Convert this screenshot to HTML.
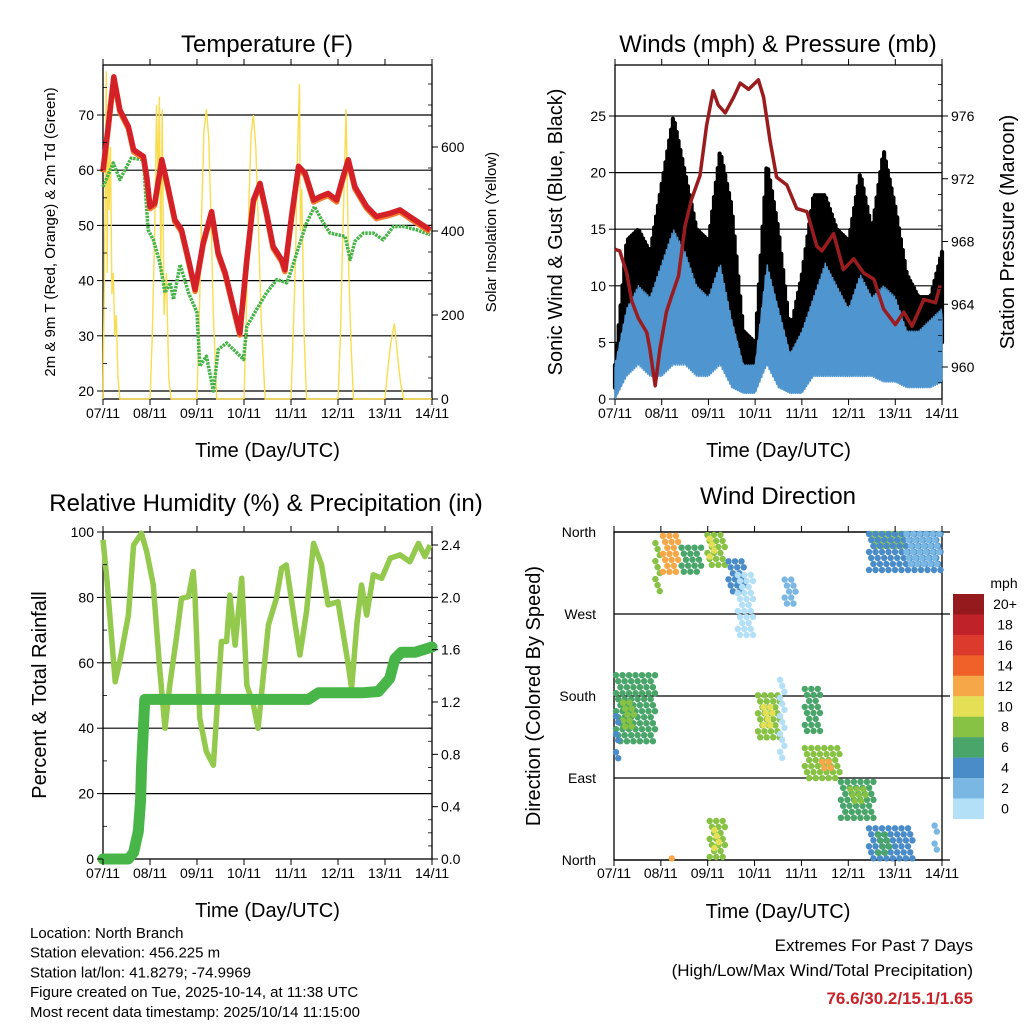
<!DOCTYPE html>
<html><head><meta charset="utf-8"><style>
body{margin:0;background:#fff}
svg{display:block;font-family:"Liberation Sans",sans-serif}
</style></head><body>
<svg id="c" width="1024" height="1024" viewBox="0 0 1024 1024" xmlns="http://www.w3.org/2000/svg"></svg>
<script>
// ---------- data ----------
const dayLabels=["07/11","08/11","09/11","10/11","11/11","12/11","13/11","14/11"];
const tempDays=[0,.11,.23,.36,.54,.65,.86,.93,1.0,1.1,1.25,1.35,1.53,1.67,1.82,1.96,2.13,2.31,2.45,2.6,2.77,2.91,3.06,3.2,3.34,3.48,3.62,3.8,3.87,4.01,4.16,4.3,4.48,4.62,4.79,4.97,5.11,5.22,5.36,5.61,5.82,6.1,6.32,6.53,6.74,6.96];
const tempRed=[60,67.9,76.9,70.9,67.9,63.7,62.5,58.9,53.4,54,61.9,58.3,51,49.2,43.8,38.4,46.8,52.5,45,41.4,35.4,30.5,43.8,54.6,57.6,52.2,46.2,43.8,42,51.6,60.7,59.5,54.6,55.2,55.8,54.6,58.9,61.9,57,53.4,51.6,52.2,52.8,51.6,50.4,49.2];
const tdDays=[0,.22,.36,.6,.86,.96,1.07,1.21,1.32,1.43,1.5,1.64,1.82,2.0,2.06,2.2,2.35,2.45,2.63,2.84,2.99,3.06,3.27,3.48,3.7,3.91,4.01,4.19,4.33,4.5,4.65,4.83,5.15,5.26,5.36,5.54,5.75,5.96,6.18,6.39,6.67,6.96];
const tdGreen=[57,61.3,58.3,62.2,61.9,49.2,47.4,43.2,37.8,39.6,36.6,42.9,37.8,34.2,24.5,26.3,20,27.5,28.7,27,25.7,31.7,34.8,37.8,40.2,39.6,42,46.8,50.4,53.4,51,48.6,48,43.8,47.1,48.6,48.6,47.4,49.8,49.8,49.2,48.3];
const solarDays=[0,.02,.05,.07,.09,.11,.13,.16,.19,.22,.25,.28,.32,.36,1.0,1.05,1.1,1.14,1.17,1.2,1.23,1.26,1.3,1.35,1.4,1.45,2.0,2.05,2.1,2.15,2.2,2.25,2.3,2.35,2.42,3.0,3.05,3.1,3.15,3.2,3.25,3.3,3.37,3.45,4.0,4.06,4.1,4.13,4.18,4.2,4.23,4.28,4.33,5.0,5.05,5.1,5.15,5.17,5.2,5.23,5.28,5.33,6.0,6.05,6.12,6.2,6.26,6.33,6.4,7.0];
const solarVals=[0,200,500,780,300,700,450,600,250,300,150,200,50,0,0,150,400,700,500,720,300,690,200,300,50,0,0,200,450,640,690,620,420,200,0,0,200,450,630,676,600,430,180,0,0,200,350,550,750,400,500,150,0,0,150,380,600,690,500,300,120,0,0,60,130,180,110,40,0,0];
const presDays=[0,.1,.25,.36,.5,.68,.75,.86,.96,1.1,1.21,1.36,1.5,1.64,1.82,1.96,2.1,2.21,2.36,2.54,2.68,2.86,3.07,3.18,3.32,3.46,3.68,3.89,4.11,4.32,4.43,4.68,4.89,5.11,5.32,5.54,5.75,6.0,6.18,6.36,6.61,6.86,6.96];
const presVals=[967.5,967.4,966,964.2,963.1,962.2,961.1,958.8,961.1,963.5,964.5,965.8,969,970.7,972.2,975.4,977.6,976.7,976.2,977.2,978.1,977.7,978.3,977.2,974.4,972.1,971.6,970.1,969.9,967.7,967.4,968.5,966.2,966.9,966,965.6,963.7,962.7,963.5,962.6,964.3,964.1,965.2];
const windDays=[0,.25,.5,.75,1,1.25,1.5,1.75,2,2.25,2.5,2.75,3,3.25,3.5,3.75,4,4.25,4.5,4.75,5,5.25,5.5,5.75,6,6.25,6.5,6.75,7];
const windLo=[0,2,3,2,2,3,3,2,2,3,1,.5,.5,3,1,.5,.5,2,2,2,2,2,2,1.5,1.5,1,1,1,1.5];
const windHi=[3,8,10,9,12,15,13,10,9,12,7,3,3,12,8,4,6,9,12,10,8,11,9,10,9,6,6,7,8];
const gustLo=[1,4,5,4,6,9,7,5,6,9,7,2,2,8,5,2,4,8,8,6,6,8,6,8,6,4,4,3,5];
const gustHi=[3,14,15,13,19,25,20,15,14,22,17,6,5,21,15,6,11,18,18,15,14,20,15,22,17,11,9,9,13];
const rhDays=[0,.08,.26,.37,.54,.65,.82,.93,1.07,1.2,1.32,1.42,1.57,1.67,1.82,1.92,1.96,2.06,2.2,2.35,2.52,2.63,2.7,2.81,2.95,3.06,3.2,3.3,3.52,3.69,3.8,3.9,4.09,4.19,4.33,4.48,4.65,4.79,5.0,5.22,5.29,5.4,5.5,5.61,5.75,5.93,6.11,6.32,6.53,6.71,6.85,6.96];
const rhVals=[97.6,85.8,54.2,61.4,74.6,96,99.6,94,83.8,59.3,40,53,68.5,79.7,80.2,87.9,79.7,43,32.8,28.7,66.5,66.5,80.7,65.4,85.8,53.2,47.1,40,71.6,79.7,88.9,89.9,71.6,62.4,75.6,96.5,89.9,77.7,78.7,59.3,52.2,71.6,83.8,74.6,86.9,85.8,92,93,90.9,96.5,92.5,96];
const rainDays=[0,.54,.65,.75,.8,.82,.86,.89,4.37,4.58,5.5,5.86,6.1,6.21,6.35,6.64,7.0];
const rainVals=[0,0,0.05,0.21,0.45,0.7,1.0,1.22,1.22,1.27,1.27,1.28,1.38,1.53,1.58,1.58,1.62];
// wind direction clusters: [dayStart, dayEnd, degLow, degHigh, speedMph]
const dirDay0=[0.84,1.0,1.4,1.95,2.0,2.4,2.6,3.6,0.0,0.15,0.0,3.03,3.15,3.5,4.03,4.03,4.4,4.8,5.0,5.4,5.6,5.45,5.4,6.2,2.0,2.1,1.19,0.0,6.8];
const dirDay1=[1.0,1.4,1.9,2.43,2.2,2.8,3.0,3.9,0.9,0.45,0.12,3.57,3.4,3.7,4.45,4.88,4.7,5.6,5.4,6.4,5.9,6.23,7.0,7.0,2.43,2.3,1.37,0.06,6.95];
const dirDeg0=[290,315,310,320,330,290,240,275,125,140,110,132,145,110,135,88,95,44,60,0,5,338,315,320,0,10,0,230,5];
const dirDeg1=[350,358,345,359,355,330,315,310,205,175,160,183,170,200,190,125,110,88,80,37,30,360,360,360,45,35,4,290,40];
const dirSpeed=[9,12,6,8,10,4,1,2,6,9,4,8,11,1,7,8,13,7,9,5,7,8,4,3,9,11,12,1,3];
const barLabels=["20+","18","16","14","12","10","8","6","4","2","0"];
const barColors=["#951a1e","#c0222a","#dc3a2c","#ef6129","#f6a848","#e4df55","#88c244","#4aa56a","#4a8cc8","#7ab8e3","#b3e0f7"];

// ---------- helpers ----------
const NS="http://www.w3.org/2000/svg";const S=document.getElementById('c');
function el(t,a,p){const e=document.createElementNS(NS,t);for(const k in a)e.setAttribute(k,a[k]);(p||S).appendChild(e);return e;}
function txt(s,x,y,size,anchor,p,extra){const e=el('text',Object.assign({x:x,y:y,'font-size':size,'text-anchor':anchor||'middle',fill:'#000'},extra||{}),p);e.textContent=s;return e;}
function group(name){const g=el('g',{});return g;}
function pts(xs,ys,fx,fy){return xs.map((d,i)=>fx(d).toFixed(1)+','+fy(ys[i]).toFixed(1)).join(' ');}
function lin(d0,d1,r0,r1){return v=>r0+(v-d0)/(d1-d0)*(r1-r0);}
function interp(xs,ys,x){for(let i=1;i<xs.length;i++){if(x<=xs[i]){const t=(x-xs[i-1])/(xs[i]-xs[i-1]);return ys[i-1]+t*(ys[i]-ys[i-1]);}}return ys[ys.length-1];}
function frame(g,x0,x1,y0,y1,gridYs,gx1){
  gridYs.forEach(y=>{const l=el('line',{x1:x0,x2:gx1||x1,y1:y,y2:y,stroke:'#000','stroke-width':1.2},g);});
  const r=el('rect',{x:x0,y:y0,width:x1-x0,height:y1-y0,fill:'none',stroke:'#000','stroke-width':1.3},g);
}
function xAxis(g,x0,x1,y0,y1,ly){
  const fx=lin(0,7,x0,x1);
  dayLabels.forEach((s,i)=>{const x=fx(i);el('line',{x1:x,x2:x,y1:y1,y2:y1+6,stroke:'#000'},g);el('line',{x1:x,x2:x,y1:y0,y2:y0-6,stroke:'#000'},g);
    const t=txt(s,x,ly,14,'middle',g);});
  const t=txt('Time (Day/UTC)',(x0+x1)/2,ly+39,20,'middle',g);
}
function yTicks(g,vals,fy,x,side,fmt,minorVals){
  vals.forEach(v=>{const y=fy(v);el('line',{x1:x,x2:x+(side<0?-6:6),y1:y,y2:y,stroke:'#000'},g);
    const t=txt(fmt(v),x+(side<0?-9:9),y+5,14,side<0?'end':'start',g);});
  (minorVals||[]).forEach(v=>{const y=fy(v);el('line',{x1:x,x2:x+(side<0?4:-4),y1:y,y2:y,stroke:'#000','stroke-width':.8},g);});
}
function rtxt(s,x,y,size,g,name){const t=txt(s,x,y,size,'middle',g,{transform:'rotate(-90 '+x+' '+y+')'});return t;}

// ---------- Panel 1: Temperature ----------
(function(){
const g=group('temperature-panel');
const X0=103,X1=432,Y0=65,Y1=399;const fx=lin(0,7,X0,X1);const fy=lin(20,70,391,115);const fs=lin(0,200,399,315);
const t=txt('Temperature (F)',267,52,24,'middle',g);
frame(g,X0,X1,Y0,Y1,[20,30,40,50,60,70].map(fy));
const sol=el('polyline',{points:pts(solarDays,solarVals,fx,fs),fill:'none',stroke:'#f9dc50','stroke-width':1.4},g);
const td=el('polyline',{points:pts(tdDays,tdGreen,fx,fy),fill:'none',stroke:'#46b347','stroke-width':3.5,'stroke-dasharray':'2.5 1','stroke-linejoin':'round'},g);
const or=el('polyline',{points:pts(tempDays,tempRed,fx,v=>fy(v)+2),fill:'none',stroke:'#f47d30','stroke-width':5.5,'stroke-linejoin':'round'},g);
const rd=el('polyline',{points:pts(tempDays,tempRed,fx,fy),fill:'none',stroke:'#d42127','stroke-width':5.5,'stroke-linejoin':'round'},g);
xAxis(g,X0,X1,Y0,Y1,418);
yTicks(g,[20,30,40,50,60,70],fy,X0,-1,v=>v,[25,35,45,55,65,75].filter(v=>fy(v)>Y0));
yTicks(g,[0,200,400,600],fs,X1,1,v=>v,[50,100,150,250,300,350,450,500,550,650,700,750]);
rtxt('2m & 9m T (Red, Orange) & 2m Td (Green)',55,232,15,g,'temperature-y-axis-title');
rtxt('Solar Insolation (Yellow)',496,232,15,g,'solar-y-axis-title');
})();

// ---------- Panel 2: Winds ----------
(function(){
const g=group('winds-panel');
const X0=615,X1=942,Y0=65,Y1=399;const fx=lin(0,7,X0,X1);const fy=lin(0,25,399,116);const fp=lin(960,976,367,116);
const t=txt('Winds (mph) & Pressure (mb)',778,52,24,'middle',g);
frame(g,X0,X1,Y0,Y1,[5,10,15,20,25].map(fy));
const gg=group('gust-scatter');g.appendChild(gg);
for(let d=0;d<=7.0001;d+=0.04){
  const lo=interp(windDays,gustLo,d),hi=interp(windDays,gustHi,d);
  const l=el('line',{x1:fx(d).toFixed(1),x2:fx(d).toFixed(1),y1:fy(lo).toFixed(1),y2:fy(hi).toFixed(1),stroke:'#000','stroke-width':4.2,'stroke-linecap':'round'},gg);
  
  
}
const up=[],dn=[];
for(let d=0,j=0;d<=7.0001;d+=0.02,j++){
  const lo=interp(windDays,windLo,d),hi=interp(windDays,windHi,d);
  up.push(fx(d).toFixed(1)+','+fy(hi*(j%2?1:0.9)).toFixed(1));
  dn.unshift(fx(d).toFixed(1)+','+fy(lo*(j%2?1:1.3)).toFixed(1));
}
const wb=el('polygon',{points:up.concat(dn).join(' '),fill:'#4f95cf',stroke:'#4f95cf','stroke-width':1.5,'stroke-linejoin':'round'},g);
const p=el('polyline',{points:pts(presDays,presVals,fx,fp),fill:'none',stroke:'#9b1c1f','stroke-width':3.5,'stroke-linejoin':'round'},g);
xAxis(g,X0,X1,Y0,Y1,418);
yTicks(g,[0,5,10,15,20,25],fy,X0,-1,v=>v,[]);
yTicks(g,[960,964,968,972,976],fp,X1,1,v=>v,[959,961,962,963,965,966,967,969,970,971,973,974,975,977,978]);
rtxt('Sonic Wind & Gust (Blue, Black)',562,232,20,g,'wind-y-axis-title');
rtxt('Station Pressure (Maroon)',1014,232,20,g,'pressure-y-axis-title');
})();

// ---------- Panel 3: RH & Precip ----------
(function(){
const g=group('humidity-panel');
const X0=103,X1=432,Y0=532,Y1=859;const fx=lin(0,7,X0,X1);const fy=lin(0,100,859,532);const fr=lin(0,2.4,859,545);
const t=txt('Relative Humidity (%) & Precipitation (in)',266,511,24,'middle',g);
frame(g,X0,X1,Y0,Y1,[20,40,60,80].map(fy));
const rh=el('polyline',{points:pts(rhDays,rhVals,fx,fy),fill:'none',stroke:'#93c94d','stroke-width':5.5,'stroke-linejoin':'round'},g);
const rn=el('polyline',{points:pts(rainDays,rainVals,fx,fr),fill:'none',stroke:'#48b548','stroke-width':11,'stroke-linejoin':'round','stroke-linecap':'round'},g);
xAxis(g,X0,X1,Y0,Y1,878);
yTicks(g,[0,20,40,60,80,100],fy,X0,-1,v=>v,[10,30,50,70,90]);
yTicks(g,[0,.4,.8,1.2,1.6,2.0,2.4],fr,X1,1,v=>v.toFixed(1),[.1,.2,.3,.5,.6,.7,.9,1,1.1,1.3,1.4,1.5,1.7,1.8,1.9,2.1,2.2,2.3,2.5]);
rtxt('Percent & Total Rainfall',46,695,20,g,'rh-y-axis-title');
})();

// ---------- Panel 4: Wind direction ----------
(function(){
const g=group('wind-direction-panel');
const X0=614,X1=942,Y0=532,Y1=860;const fx=lin(0,7,X0,X1);const fy=lin(0,360,860,532);
const t=txt('Wind Direction',778,504,24,'middle',g);
frame(g,X0,X1,Y0,Y1,[0,90,180,270,360].map(fy),950);
dirDay0.forEach((d0,i)=>{
  const xa=fx(d0),xb=fx(dirDay1[i]),ya=fy(dirDeg1[i]),yb=fy(dirDeg0[i]);
  const col=barColors[10-Math.min(10,Math.floor(dirSpeed[i]/2))];
  let row=0;
  for(let y=ya+2;y<=yb-1;y+=6,row++){
    for(let x=xa+2+(row%3)*2.2;x<=xb-1;x+=6.5){
      const c=el('circle',{cx:x.toFixed(1),cy:y.toFixed(1),r:3.2,fill:col},g);
      
      
    }
  }
});
dayLabels.forEach((s,i)=>{const x=fx(i);el('line',{x1:x,x2:x,y1:Y1,y2:Y1+6,stroke:'#000'},g);el('line',{x1:x,x2:x,y1:Y0,y2:Y0-6,stroke:'#000'},g);
  const tt=txt(s,x,878,14,'middle',g);});
const xt=txt('Time (Day/UTC)',778,918,20,'middle',g);
["North","East","South","West","North"].forEach((s,i)=>{const tt=txt(s,596,fy(i*90)+5,14,'end',g);});
rtxt('Direction (Colored By Speed)',540,696,20,g,'direction-y-axis-title');
const cb=group('speed-colorbar');
const lt=txt('mph',1004,588,14,'middle',cb);
barColors.forEach((c,i)=>{const r=el('rect',{x:953,y:594+i*20.45,width:31,height:20.6,fill:c},cb);
  const tt=txt(barLabels[i],1005,609+i*20.45,14,'middle',cb);});
})();

// ---------- Footer ----------
(function(){
const g=group('footer');
["Location: North Branch","Station elevation: 456.225 m","Station lat/lon: 41.8279; -74.9969","Figure created on Tue, 2025-10-14, at 11:38 UTC","Most recent data timestamp: 2025/10/14 11:15:00"].forEach((s,i)=>{
  const t=txt(s,30,938+i*19.7,15,'start',g);});
const a=txt('Extremes For Past 7 Days',973,951,17,'end',g);
const b=txt('(High/Low/Max Wind/Total Precipitation)',973,976,17,'end',g);
const c=txt('76.6/30.2/15.1/1.65',973,1004,17,'end',g,{fill:'#c8232a','font-weight':'bold'});
})();
</script>
</body></html>
